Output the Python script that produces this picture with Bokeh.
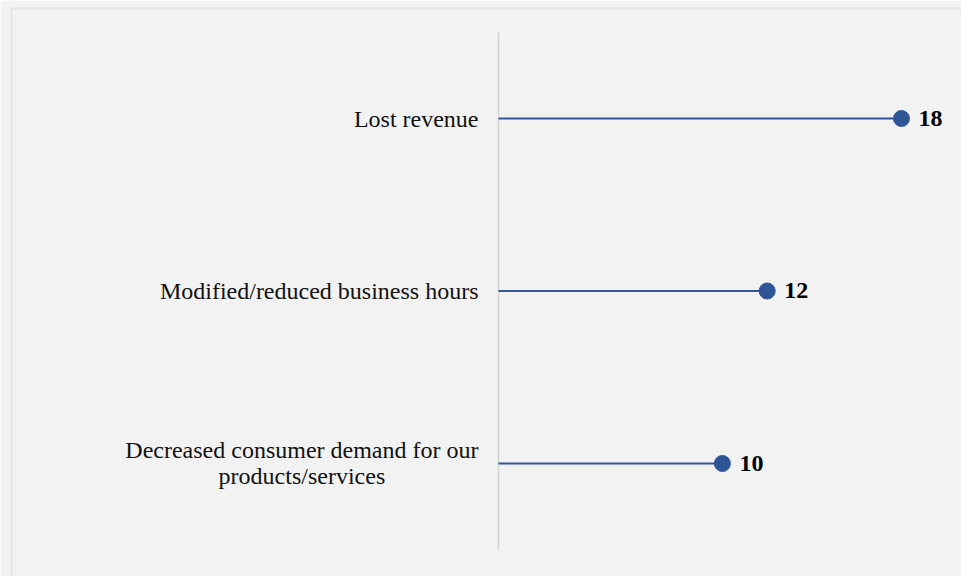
from bokeh.plotting import figure
from bokeh.models import Range1d, ColumnDataSource
from bokeh.core.properties import value
from bokeh.embed import file_html
from bokeh.resources import INLINE

categories = [
    "Lost revenue",
    "Modified/reduced business hours",
    "Decreased consumer demand for our\nproducts/services",
]
values = [18, 12, 10]
value_labels = [str(v) for v in values]

BLUE = "#2f5597"
FONT = "Liberation Serif"

idx = list(range(len(categories)))
src = ColumnDataSource(dict(cat=categories, val=values, lab=value_labels,
                            y=idx, zero=[0] * len(idx)))

p = figure(width=964, height=579,
           x_range=Range1d(-21.752, 20.814),
           y_range=Range1d(2.6725, -0.6377),
           x_axis_type=None, y_axis_type=None,
           output_backend="svg", toolbar_location=None,
           min_border_left=11, min_border_top=8,
           min_border_right=0, min_border_bottom=0,
           background_fill_color="#f2f2f2", border_fill_color="#f2f2f2",
           outline_line_color="#e3e3e3", outline_line_width=2)
p.grid.visible = False

# category axis line
p.segment(x0=0, y0=-0.5, x1=0, y1=len(categories) - 0.5,
          line_color="#d4d4d4", line_width=1.5)

# stems and dots
p.segment(x0="zero", y0="y", x1="val", y1="y", source=src,
          line_color=BLUE, line_width=2)
p.scatter(x="val", y="y", source=src, size=16,
          fill_color=BLUE, line_color=BLUE)

# category labels
p.text(x="zero", y="y", text="cat", source=src, x_offset=-20,
       anchor="center_right", text_align="center", text_baseline="middle",
       text_font=value(FONT), text_font_size="24px", text_color="#111111",
       text_line_height=1.0)

# value labels
p.text(x="val", y="y", text="lab", source=src, x_offset=17,
       text_align="left", text_baseline="middle",
       text_font=value(FONT), text_font_size="24px", text_font_style="bold",
       text_color="#000000")

open("out.html", "w").write(file_html(p, INLINE))
